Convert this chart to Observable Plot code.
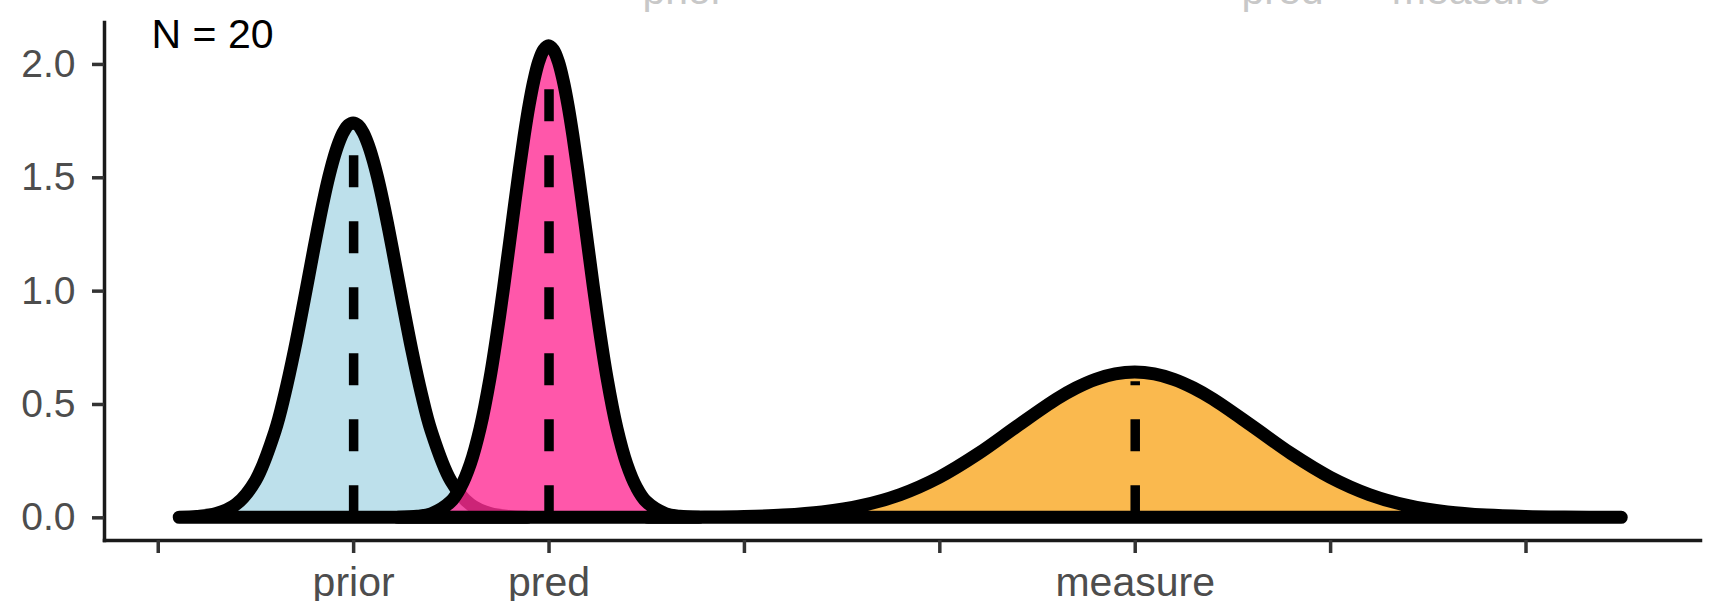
<!DOCTYPE html>
<html>
<head>
<meta charset="utf-8">
<script src="https://cdn.jsdelivr.net/npm/d3@7"></script>
<script src="https://cdn.jsdelivr.net/npm/@observablehq/plot@0.6"></script>
<style>
html, body { margin: 0; padding: 0; background: #fff; overflow: hidden; }
#chart svg { display: block; }
</style>
</head>
<body>
<div id="chart"></div>
<script>
// ---- data ----
const seriesNames = ["prior", "pred", "measure"];
const seriesColors = ["#ADD8E6", "#FF2D95", "#F9A822"];

const priorX = [0.11, 0.2, 0.3, 0.4, 0.5, 0.6, 0.65, 0.7, 0.75, 0.8, 0.825, 0.85, 0.875, 0.9, 0.925, 0.95, 0.975, 1.0, 1.025, 1.05, 1.075, 1.1, 1.125, 1.15, 1.175, 1.2, 1.25, 1.3, 1.35, 1.4, 1.5, 1.6, 1.7, 1.8, 1.89];
const priorY = [0.0009, 0.004, 0.0165, 0.0567, 0.1615, 0.38, 0.543, 0.739, 0.96, 1.189, 1.300, 1.405, 1.500, 1.582, 1.649, 1.699, 1.730, 1.74, 1.730, 1.699, 1.649, 1.582, 1.500, 1.405, 1.300, 1.189, 0.96, 0.739, 0.543, 0.38, 0.1615, 0.0567, 0.0165, 0.004, 0.0009];

const predX = [1.23, 1.33, 1.4, 1.5, 1.55, 1.6, 1.65, 1.7, 1.75, 1.8, 1.825, 1.85, 1.875, 1.9, 1.925, 1.95, 1.975, 2.0, 2.025, 2.05, 2.075, 2.1, 2.125, 2.15, 2.175, 2.2, 2.25, 2.3, 2.35, 2.4, 2.45, 2.5, 2.6, 2.67, 2.77];
const predY = [0.0007, 0.0047, 0.0156, 0.0696, 0.1327, 0.2364, 0.3935, 0.612, 0.89, 1.208, 1.372, 1.532, 1.682, 1.816, 1.927, 2.011, 2.062, 2.08, 2.062, 2.011, 1.927, 1.816, 1.682, 1.532, 1.372, 1.208, 0.89, 0.612, 0.3935, 0.2364, 0.1327, 0.0696, 0.0156, 0.0047, 0.0007];

const measureX = [2.51, 2.8, 3.0, 3.2, 3.4, 3.6, 3.8, 4.0, 4.2, 4.4, 4.6, 4.7, 4.8, 4.9, 5.0, 5.1, 5.2, 5.3, 5.4, 5.6, 5.8, 6.0, 6.2, 6.4, 6.6, 6.8, 7.0, 7.2, 7.49];
const measureY = [0.0002, 0.0013, 0.0037, 0.0099, 0.0238, 0.0514, 0.1005, 0.177, 0.2813, 0.4033, 0.5217, 0.5709, 0.6088, 0.6328, 0.641, 0.6328, 0.6088, 0.5709, 0.5217, 0.4033, 0.2813, 0.177, 0.1005, 0.0514, 0.0238, 0.0099, 0.0037, 0.0013, 0.0002];

const meanX = [1, 2, 5];
const meanTop = [1.60, 1.90, 0.60];

const xTickValues = [0, 1, 2, 3, 4, 5, 6, 7];
const xTickLabels = ["", "prior", "pred", "", "", "measure", "", ""];
const yTickValues = [0, 0.5, 1, 1.5, 2];

const ghostLabels = ["prior", "pred", "measure"];
const ghostX = [2.688, 5.754, 6.721];

const annotationText = "N = 20";
const annotationX = -0.034;
const annotationY = 2.072;

// ---- build tables ----
const toRows = (xs, ys) => xs.map((x, i) => ({x, y: ys[i]}));
const curves = [toRows(priorX, priorY), toRows(predX, predY), toRows(measureX, measureY)];
const means = meanX.map((x, i) => ({x, top: meanTop[i]}));

const areaMarks = curves.map((rows, i) =>
  Plot.areaY(rows, {
    x: "x", y: "y",
    fill: seriesColors[i], fillOpacity: 0.8,
    stroke: "black", strokeWidth: 13,
    curve: "catmull-rom"
  })
);

const chart = Plot.plot({
  width: 1709,
  height: 601,
  marginLeft: 104,
  marginRight: 9,
  marginTop: 22,
  marginBottom: 61,
  style: {fontFamily: "Liberation Sans, Arial, Helvetica, sans-serif", background: "white"},
  x: {domain: [-0.275, 7.893]},
  y: {domain: [-0.100, 2.185]},
  marks: [
    Plot.text(ghostLabels, {
      x: (d, i) => ghostX[i], text: d => d,
      frameAnchor: "top", lineAnchor: "bottom", dy: -19,
      fill: "#C8C8C8", fontSize: 41
    }),
    ...areaMarks,
    Plot.ruleX(means, {
      x: "x", y1: () => 0, y2: "top",
      stroke: "black", strokeWidth: 9.5, strokeDasharray: "32,34"
    }),
    Plot.text([annotationText], {
      x: () => annotationX, y: () => annotationY, text: d => d,
      textAnchor: "start", lineAnchor: "bottom",
      fill: "black", fontSize: 41
    }),
    Plot.frame({anchor: "left", stroke: "#1a1a1a", strokeWidth: 3.5}),
    Plot.frame({anchor: "bottom", stroke: "#1a1a1a", strokeWidth: 3.5}),
    Plot.axisY({
      ticks: yTickValues, tickFormat: d3.format(".1f"),
      tickSize: 12, tickPadding: 17, fontSize: 39,
      stroke: "#333", fill: "#4D4D4D", strokeWidth: 3.5,
      label: null
    }),
    Plot.axisX({
      ticks: xTickValues, tickFormat: d => xTickLabels[xTickValues.indexOf(d)],
      tickSize: 13, tickPadding: 13, fontSize: 41,
      stroke: "#333", fill: "#4D4D4D", strokeWidth: 3.5,
      label: null
    })
  ]
});
document.getElementById("chart").append(chart);
</script>
</body>
</html>
